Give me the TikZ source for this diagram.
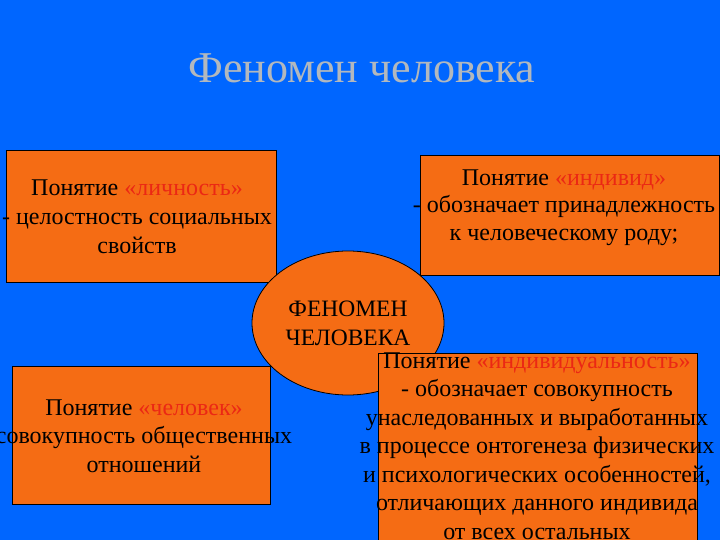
\documentclass[tikz,border=0pt]{standalone}
\usepackage{fontspec}
\setmainfont{Liberation Serif}
\usetikzlibrary{shapes.geometric}
\definecolor{slideblue}{RGB}{0,102,255}
\definecolor{slideorange}{RGB}{245,108,20}
\definecolor{termred}{RGB}{235,40,20}
\definecolor{titlegray}{RGB}{178,184,190}
\newcommand{\term}[1]{\textcolor{termred}{#1}}
\begin{document}
\begin{tikzpicture}[x=1pt, y=-1pt, box style/.style={rectangle, draw=black, fill=slideorange, line width=0.8pt, inner sep=0pt}, text style/.style={align=center, inner sep=0pt, anchor=north, font=\fontsize{24}{28.5}\selectfont}, oval style/.style={ellipse, draw=black, fill=slideorange, line width=0.8pt, minimum width=192pt, minimum height=144pt, inner sep=0pt, align=center, font=\fontsize{23.5}{29}\selectfont}]
	\useasboundingbox (0,0) rectangle (720,540);
	\fill[slideblue] (0,0) rectangle (720,540);
	\node[font=\fontsize{44}{50}\selectfont, text=titlegray, anchor=base] (T) at (362,83) {Феномен человека};
	\node[box style, minimum width=270pt, minimum height=132pt] (B1) at (141,216) {};
	\node[text style, font=\fontsize{24}{29}\selectfont] (T1) at (137,179.3) {Понятие \term{«личность»}\\- целостность социальных\\свойств};
	\node[box style, minimum width=299pt, minimum height=120pt] (B2) at (569.5,215) {};
	\node[text style, font=\fontsize{24}{27.5}\selectfont] (T2) at (564,169.3) {Понятие \term{«индивид»}\\- обозначает принадлежность\\к человеческому роду;};
	\node[box style, minimum width=258pt, minimum height=138pt] (B3) at (141,435) {};
	\node[text style] (T3) at (144,399.3) {Понятие \term{«человек»}\\совокупность общественных\\отношений};
	\node[oval style] (E) at (348,323) {ФЕНОМЕН\\ЧЕЛОВЕКА};
	\node[box style, minimum width=319pt, minimum height=217pt] (B4) at (537.5,461.5) {};
	\node[text style] (T4) at (537,352.3) {Понятие \term{«индивидуальность»}\\- обозначает совокупность\\унаследованных и выработанных\\в процессе онтогенеза физических\\и психологических особенностей,\\отличающих данного индивида\\от всех остальных};
\end{tikzpicture}
\end{document}
